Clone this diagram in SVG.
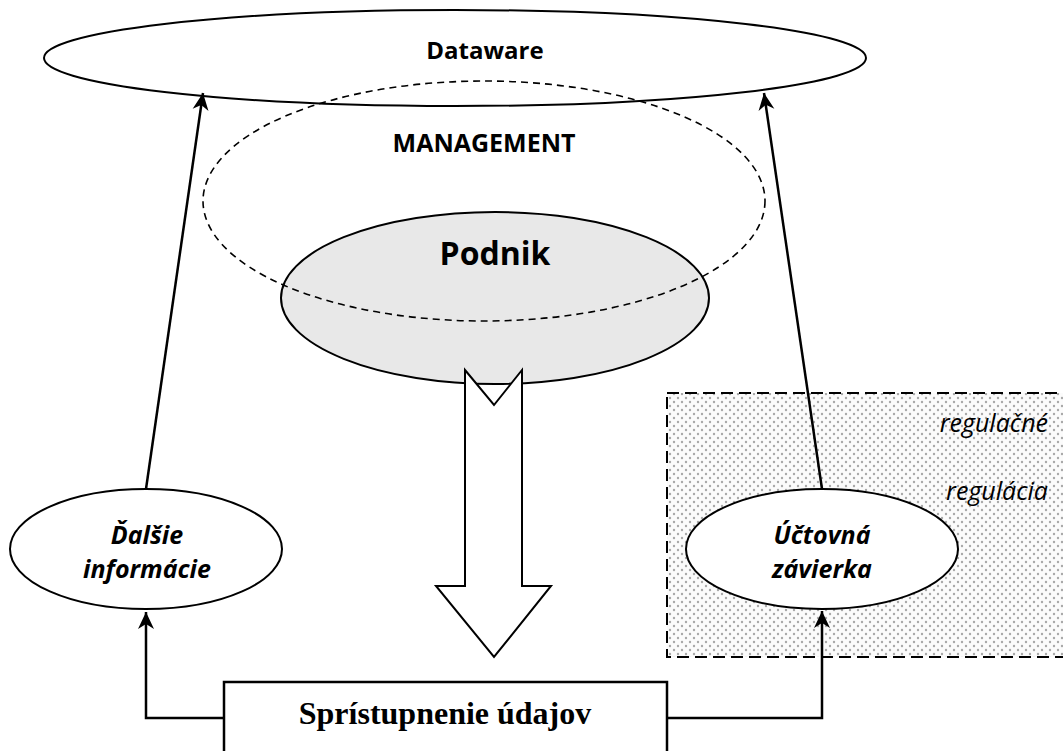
<svg xmlns="http://www.w3.org/2000/svg" width="1063" height="751" viewBox="0 0 1063 751">
<style>
.sb{font-family:"Open Sans","Noto Sans","DejaVu Sans",sans-serif;font-weight:bold;fill:#000;text-anchor:middle}
.it{font-family:"Open Sans","Noto Sans","DejaVu Sans",sans-serif;font-style:italic;fill:#000}
.line{stroke:#000;stroke-width:2.5;fill:none}
.ell{stroke:#000;stroke-width:2;fill:#fff}
</style>
<defs>
<marker id="ah" markerWidth="18" markerHeight="18" viewBox="0 0 18 18" refX="17" refY="9" orient="auto" markerUnits="userSpaceOnUse">
<path d="M0,1 L17,9 L0,17 L5,9 Z" fill="#000"/>
</marker>
<pattern id="dots" width="8" height="8" patternUnits="userSpaceOnUse">
<rect width="8" height="8" fill="#fbfbfb"/>
<circle cx="2" cy="2" r="1.2" fill="#a8a8a8"/>
<circle cx="6" cy="6" r="1.2" fill="#a8a8a8"/>
</pattern>
</defs>
<g id="regulation-area">
<rect x="667" y="393" width="410" height="264" fill="url(#dots)" stroke="#000" stroke-width="2" stroke-dasharray="12,6"/>
<text class="it" x="1048" y="432" font-size="25" text-anchor="end">regulačné</text>
<text class="it" x="1048" y="500" font-size="25" text-anchor="end">regulácia</text>
</g>
<g id="dataware">
<ellipse class="ell" cx="455" cy="58" rx="411" ry="48"/>
<text class="sb" x="485" y="59" font-size="24">Dataware</text>
</g>
<g id="podnik">
<ellipse cx="495" cy="298" rx="214" ry="86" fill="#e8e8e8" stroke="#000" stroke-width="2"/>
<text class="sb" x="495" y="265" font-size="32">Podnik</text>
</g>
<g id="management">
<ellipse cx="484" cy="201" rx="281" ry="120" fill="none" stroke="#000" stroke-width="1.6" stroke-dasharray="7,5"/>
<text class="sb" x="484" y="152" font-size="25">MANAGEMENT</text>
</g>
<g id="big-arrow">
<path d="M465,370 L494,405 L522,370 L522,586 L551,586 L494,657 L436,586 L465,586 Z" fill="#fff" stroke="#000" stroke-width="2" stroke-linejoin="miter"/>
</g>
<g id="dalsie">
<ellipse class="ell" cx="146" cy="549" rx="136" ry="60"/>
<text class="sb it" x="147" y="544" font-size="25" text-anchor="middle">Ďalšie</text>
<text class="sb it" x="147" y="578" font-size="25" text-anchor="middle">informácie</text>
</g>
<g id="uctovna">
<ellipse class="ell" cx="822" cy="549" rx="136" ry="60"/>
<text class="sb it" x="822" y="544" font-size="25" text-anchor="middle">Účtovná</text>
<text class="sb it" x="822" y="578" font-size="25" text-anchor="middle">závierka</text>
</g>
<g id="spristupnenie">
<rect x="224" y="682" width="443" height="80" fill="#fff" stroke="#000" stroke-width="2.5"/>
<text x="445" y="724" font-family="'Liberation Serif','Times New Roman',serif" font-weight="bold" font-size="32" text-anchor="middle">Sprístupnenie údajov</text>
</g>
<g id="connectors">
<path class="line" d="M146,489 L203,93" marker-end="url(#ah)"/>
<path class="line" d="M822,489 L764,93" marker-end="url(#ah)"/>
<path class="line" d="M224,718 L146,718 L146,612" marker-end="url(#ah)"/>
<path class="line" d="M667,718 L822,718 L822,611" marker-end="url(#ah)"/>
</g>
</svg>
